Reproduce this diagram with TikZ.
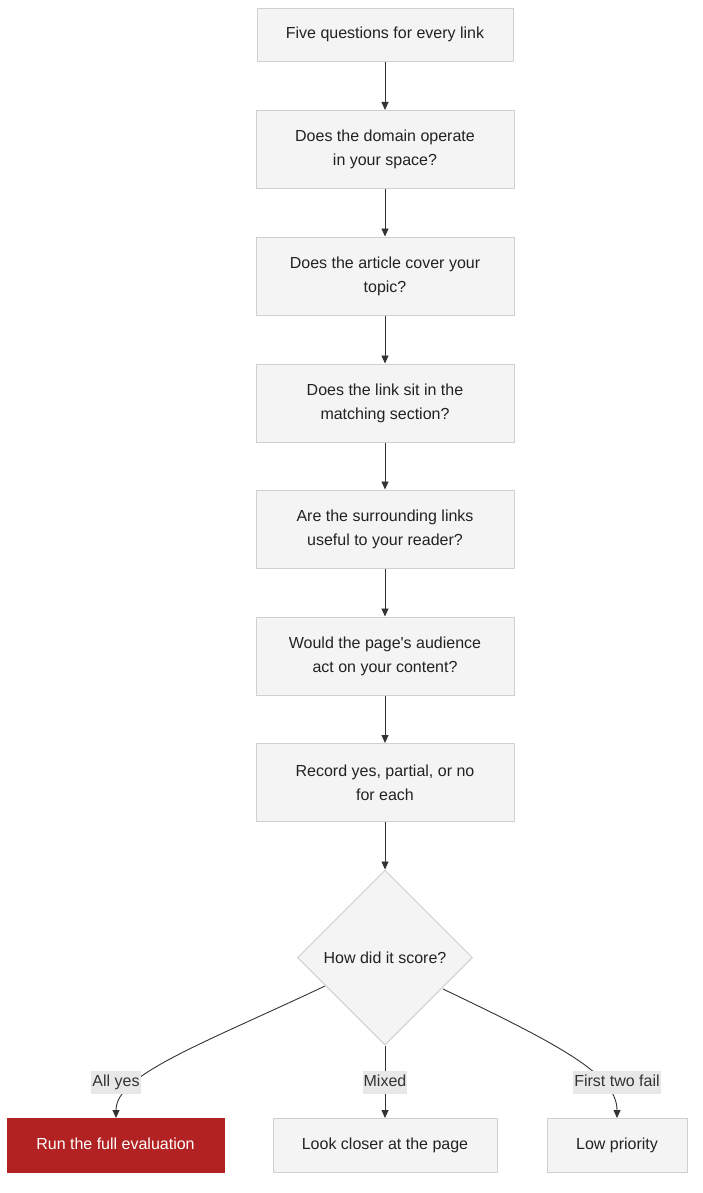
\documentclass[tikz,border=0pt]{standalone}
\usepackage{fontspec}
\setmainfont{Liberation Sans}
\usetikzlibrary{shapes.geometric,arrows.meta}
\definecolor{boxfill}{HTML}{F4F4F4}
\definecolor{boxline}{HTML}{D0D0D0}
\definecolor{ink}{HTML}{333333}
\definecolor{txt}{HTML}{222222}
\definecolor{redfill}{HTML}{B22222}
\definecolor{lblfill}{HTML}{E8E8E8}
\begin{document}
\begin{tikzpicture}[x=1pt,y=-1pt,
  every node/.style={font=\fontsize{16}{24}\selectfont, text=txt},
  qbox/.style={rectangle, draw=boxline, fill=boxfill, line width=1pt, minimum width=258pt, minimum height=78pt, align=center, inner sep=0pt},
  one/.style={text height=11.5pt, text depth=3.5pt},
  bbox/.style={rectangle, draw=boxline, fill=boxfill, line width=1pt, minimum height=54pt, inner sep=0pt, align=center, one},
  redbox/.style={bbox, draw=redfill, fill=redfill, text=white},
  dia/.style={diamond, draw=boxline, fill=boxfill, line width=1pt, minimum width=175pt, minimum height=175pt, inner sep=0pt, aspect=1},
  lbl/.style={fill=lblfill, text=ink, inner xsep=1pt, inner ysep=0pt, minimum height=23pt, one},
  conn/.style={draw=ink, line width=0.9pt, -{Triangle[length=8pt,width=7pt]}}
]
\useasboundingbox (0,0) rectangle (703,1193);
\node[qbox, one, minimum width=256pt, minimum height=53pt] (n0) at (385,35) {Five questions for every link};
\node[qbox] (n1) at (385,149.5) {Does the domain operate\\in your space?};
\node[qbox] (n2) at (385,276) {Does the article cover your\\topic?};
\node[qbox] (n3) at (385,403) {Does the link sit in the\\matching section?};
\node[qbox] (n4) at (385,529) {Are the surrounding links\\useful to your reader?};
\node[qbox] (n5) at (385,656) {Would the page\textquotesingle s audience\\act on your content?};
\node[qbox] (n6) at (385,782.5) {Record yes, partial, or no\\for each};
\node[dia] (d) at (385,957.5) {How did it score?};
\node[redbox, minimum width=217pt] (r1) at (115.5,1145.5) {Run the full evaluation};
\node[bbox, minimum width=224pt] (r2) at (385,1145.5) {Look closer at the page};
\node[bbox, minimum width=140pt] (r3) at (617,1145.5) {Low priority};

\draw[conn] (n0) -- (n1);
\draw[conn] (n1) -- (n2);
\draw[conn] (n2) -- (n3);
\draw[conn] (n3) -- (n4);
\draw[conn] (n4) -- (n5);
\draw[conn] (n5) -- (n6);
\draw[conn] (n6) -- (d);
\coordinate (dl) at (325,986);
\coordinate (dr) at (443,989);
\draw[conn] (dl) .. controls (200,1045) and (116,1075) .. (r1.north -| 116,0);
\draw[conn] (d.south) -- (r2.north);
\draw[conn] (dr) .. controls (560,1045) and (617,1075) .. (r3.north);
\node[lbl] (l1) at (116,1082) {All yes};
\node[lbl] (l2) at (385,1082) {Mixed};
\node[lbl] (l3) at (617,1082) {First two fail};
\end{tikzpicture}
\end{document}
